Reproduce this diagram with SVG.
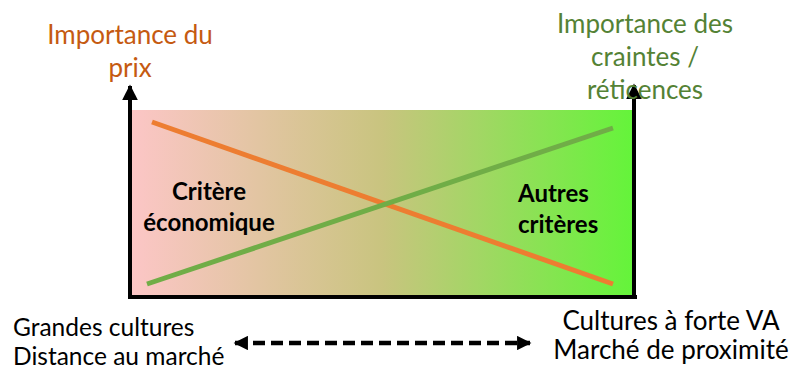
<svg xmlns="http://www.w3.org/2000/svg" width="798" height="374" viewBox="0 0 798 374">
<defs>
<linearGradient id="bg" x1="0" y1="0" x2="1" y2="0">
<stop offset="0" stop-color="#FCC6C6"/>
<stop offset="0.5" stop-color="#C9C47F"/>
<stop offset="1" stop-color="#64F43A"/>
</linearGradient>
<marker id="ah" viewBox="0 0 10 10" refX="9" refY="5" markerWidth="3.4" markerHeight="3.2" orient="auto-start-reverse" markerUnits="strokeWidth">
<path d="M0,0 L10,5 L0,10 Z" fill="#000"/>
</marker>
<marker id="ax" viewBox="0 0 10 10" refX="9" refY="5" markerWidth="4" markerHeight="4" orient="auto" markerUnits="strokeWidth">
<path d="M0,0 L10,5 L0,10 Z" fill="#000"/>
</marker>
</defs>
<style>
text{font-family:"Lato","Open Sans","Liberation Sans",sans-serif;}
.lbl{font-size:26px;}
.in{font-size:24px;font-weight:bold;fill:#000;}
.bot{font-size:26px;fill:#000;}
.botl{font-size:24.5px;fill:#000;}
.axis{stroke:#000;stroke-width:4;fill:none;}
</style>
<g id="chart">
<rect x="132" y="110" width="501" height="187" fill="url(#bg)"/>
</g>
<g id="connectors">
<line class="axis" x1="130" y1="299" x2="130" y2="86" marker-end="url(#ax)"/>
<line class="axis" x1="634" y1="299" x2="634" y2="85" marker-end="url(#ax)"/>
<line class="axis" x1="128" y1="297" x2="637" y2="297"/>
<line x1="152" y1="122" x2="613" y2="284" stroke="#ED7D31" stroke-width="5"/>
<line x1="147" y1="284" x2="613" y2="128" stroke="#70AD47" stroke-width="5"/>
<line x1="235" y1="343" x2="530" y2="343" stroke="#000" stroke-width="4.5" stroke-dasharray="12,6" marker-start="url(#ah)" marker-end="url(#ah)"/>
</g>
<g id="prix-label">
<text class="lbl" x="130" y="44" text-anchor="middle" fill="#C55A11">Importance du</text>
<text class="lbl" x="130" y="77" text-anchor="middle" fill="#C55A11">prix</text>
</g>
<g id="craintes-label">
<text class="lbl" x="645" y="33" text-anchor="middle" fill="#548235">Importance des</text>
<text class="lbl" x="645" y="66" text-anchor="middle" fill="#548235">craintes /</text>
<text class="lbl" x="645" y="99" text-anchor="middle" fill="#548235">réticences</text>
</g>
<g id="critere-eco">
<text class="in" x="209" y="200" text-anchor="middle">Critère</text>
<text class="in" x="209" y="231" text-anchor="middle">économique</text>
</g>
<g id="autres">
<text class="in" x="518" y="202">Autres</text>
<text class="in" x="518" y="233">critères</text>
</g>
<g id="left-bottom">
<text class="botl" x="13" y="336">Grandes cultures</text>
<text class="botl" x="13" y="365">Distance au marché</text>
</g>
<g id="right-bottom">
<text class="bot" x="671" y="330" text-anchor="middle">Cultures à forte VA</text>
<text class="bot" x="671" y="359" text-anchor="middle">Marché de proximité</text>
</g>
</svg>
